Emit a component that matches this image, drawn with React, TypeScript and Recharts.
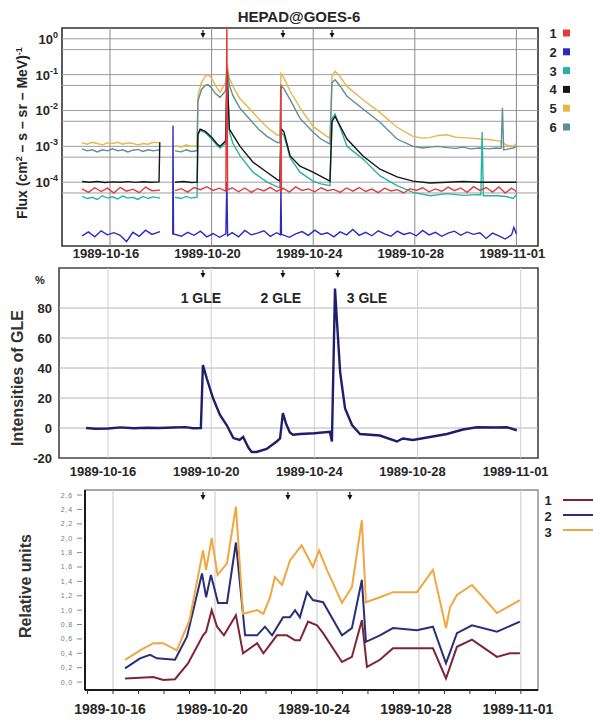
import React from "react";
import { LineChart, Line, XAxis, YAxis, ReferenceLine, ReferenceArea } from "recharts";

type Pt = [number, number | null];

// x values are days counted from 1989-10-16 00:00 UT
const DATE_TICKS = [0, 4, 8, 12, 16];
const DATE_LABELS = ["1989-10-16", "1989-10-20", "1989-10-24", "1989-10-28", "1989-11-01"];
const DAY_TICKS = [-1, 0, 1, 2, 3, 4, 5, 6, 7, 8, 9, 10, 11, 12, 13, 14, 15, 16];

const FLUX_TICKS = [1, 0.1, 0.01, 0.001, 0.0001];
const FLUX_GRID = [1, 0.5, 0.1, 0.05, 0.01, 0.005, 0.001, 0.0005, 0.0001, 0.00005];
const GLE_TICKS = [-20, 0, 20, 40, 60, 80];
const GLE_GRID = [0, 20, 40, 60, 80];
const REL_TICKS = [0, 0.2, 0.4, 0.6, 0.8, 1.0, 1.2, 1.4, 1.6, 1.8, 2.0, 2.2, 2.4, 2.6];

const HEPAD_NAMES = ["1", "2", "3", "4", "5", "6"];
const NM_NAMES = ["1", "2", "3"];
const GLE_NAMES = ["1 GLE", "2 GLE", "3 GLE"];
const GLE_NAME_DAYS = [3.6, 6.7, 10.04];
const FLUX_ARROW_DAYS = [3.66, 6.81, 8.74];
const GLE_ARROW_DAYS = [3.68, 6.78, 8.91];
const REL_ARROW_DAYS = [3.53, 6.86, 9.29];

// HEPAD channel 1 (red)
const hepad1: Pt[] = [
  [-1.1, 6.5e-5], [-0.85, 5.2e-5], [-0.6, 7.0e-5], [-0.35, 5.5e-5], [-0.1, 6.8e-5], [0.15, 5.0e-5],
  [0.4, 7.2e-5], [0.65, 5.6e-5], [0.9, 6.4e-5], [1.15, 5.1e-5], [1.4, 7.3e-5], [1.65, 5.8e-5], [1.97, 6.0e-5],
  [2.2, null],
  [2.56, 5.8e-5], [2.81, 6.6e-5], [3.06, 5.3e-5], [3.31, 7.1e-5], [3.56, 6.2e-5], [3.81, 7.5e-5],
  [4.06, 5.9e-5], [4.31, 6.8e-5], [4.56, 5.6e-5], [4.6, 3], [4.63, 6.0e-5], [4.81, 7.0e-5], [5.06, 5.4e-5],
  [5.31, 6.9e-5], [5.56, 5.2e-5], [5.81, 6.6e-5], [6.06, 5.7e-5], [6.31, 7.2e-5], [6.56, 5.5e-5],
  [6.71, 6.2e-5], [6.73, 5e-2], [6.75, 6.0e-5], [6.81, 6.8e-5], [7.06, 5.3e-5], [7.31, 7.4e-5],
  [7.56, 5.9e-5], [7.81, 6.5e-5], [8.06, 5.4e-5], [8.31, 7.0e-5], [8.56, 5.8e-5], [8.81, 6.3e-5],
  [9.06, 5.2e-5], [9.31, 6.9e-5], [9.56, 5.6e-5], [9.81, 7.1e-5], [10.06, 5.5e-5], [10.31, 6.4e-5],
  [10.56, 5.1e-5], [10.81, 6.8e-5], [11.06, 5.7e-5], [11.31, 6.2e-5], [11.56, 5.0e-5], [11.81, 6.6e-5],
  [12.06, 5.9e-5], [12.31, 7.0e-5], [12.56, 5.4e-5], [12.81, 6.5e-5], [13.06, 5.6e-5], [13.31, 7.3e-5],
  [13.56, 5.8e-5], [13.81, 6.9e-5], [14.06, 5.2e-5], [14.31, 7.5e-5], [14.56, 5.9e-5], [14.81, 7.1e-5],
  [15.06, 5.3e-5], [15.31, 7.4e-5], [15.56, 5.0e-5], [15.81, 6.8e-5], [16.0, 5.5e-5],
];

// HEPAD channel 2 (blue)
const hepad2: Pt[] = [
  [-1.1, 3.2e-6], [-0.85, 4.1e-6], [-0.6, 3.0e-6], [-0.35, 4.4e-6], [-0.1, 3.4e-6], [0.15, 3.9e-6],
  [0.4, 3.3e-6], [0.65, 2.2e-6], [0.9, 4.0e-6], [1.15, 3.1e-6], [1.4, 4.6e-6], [1.65, 3.5e-6], [1.97, 4.2e-6],
  [2.2, null],
  [2.47, 3.4e-6], [2.48, 3.8e-3], [2.5, 3.6e-6], [2.81, 3.1e-6], [3.06, 4.0e-6], [3.31, 3.3e-6],
  [3.56, 4.3e-6], [3.81, 3.0e-6], [4.06, 3.7e-6], [4.31, 2.9e-6], [4.56, 3.6e-6], [4.6, 1e-4], [4.63, 3.2e-6],
  [4.81, 3.9e-6], [5.06, 3.0e-6], [5.31, 4.5e-6], [5.56, 3.4e-6], [5.81, 3.8e-6], [6.06, 4.4e-6],
  [6.31, 3.1e-6], [6.56, 3.9e-6], [6.71, 3.4e-6], [6.73, 7e-5], [6.75, 3.5e-6], [7.06, 2.9e-6],
  [7.31, 3.6e-6], [7.56, 4.2e-6], [7.81, 3.3e-6], [8.06, 4.6e-6], [8.31, 3.5e-6], [8.56, 3.9e-6],
  [8.81, 3.0e-6], [9.06, 4.1e-6], [9.31, 3.4e-6], [9.56, 4.8e-6], [9.81, 3.3e-6], [10.06, 4.0e-6],
  [10.31, 3.2e-6], [10.56, 4.4e-6], [10.81, 3.6e-6], [11.06, 3.1e-6], [11.31, 4.3e-6], [11.56, 3.5e-6],
  [11.81, 3.9e-6], [12.06, 3.2e-6], [12.31, 4.5e-6], [12.56, 3.4e-6], [12.81, 4.0e-6], [13.06, 3.1e-6],
  [13.31, 3.8e-6], [13.56, 4.3e-6], [13.81, 3.3e-6], [14.06, 4.1e-6], [14.31, 3.5e-6], [14.56, 3.9e-6],
  [14.81, 2.7e-6], [15.06, 3.8e-6], [15.31, 3.2e-6], [15.56, 2.6e-6], [15.81, 3.4e-6], [15.9, 5.5e-6],
  [16.0, 3.6e-6],
];

// HEPAD channel 3 (teal)
const hepad3: Pt[] = [
  [-1.1, 4.0e-5], [-0.9, 3.5e-5], [-0.7, 3.8e-5], [-0.5, 3.3e-5], [-0.3, 4.2e-5], [-0.1, 3.6e-5],
  [0.1, 3.9e-5], [0.3, 3.4e-5], [0.5, 4.1e-5], [0.7, 3.6e-5], [0.9, 3.8e-5], [1.1, 3.3e-5], [1.3, 4.0e-5],
  [1.5, 3.5e-5], [1.7, 3.9e-5], [1.97, 3.6e-5],
  [2.2, null],
  [2.56, 3.8e-5], [2.8, 3.5e-5], [3.0, 4.0e-5], [3.2, 3.6e-5], [3.43, 3.8e-5], [3.46, 2.0e-3],
  [3.55, 2.8e-3], [3.75, 2.4e-3], [4.0, 1.6e-3], [4.2, 1.1e-3], [4.33, 9e-4], [4.55, 1.2e-3], [4.61, 1.0e-1],
  [4.7, 2.5e-3], [4.84, 1.2e-3], [5.12, 5.4e-4], [5.63, 1.9e-4], [6.18, 1.0e-4], [6.57, 7.5e-5],
  [6.69, 7.0e-5], [6.73, 2.5e-3], [6.85, 2.0e-3], [7.09, 4.8e-4], [7.48, 1.9e-4], [7.99, 1.07e-4],
  [8.3, 9e-5], [8.66, 8e-5], [8.74, 6e-3], [8.86, 8e-3], [9.33, 1.0e-3], [9.96, 4.4e-4], [10.63, 1.5e-4],
  [11.3, 8e-5], [11.93, 5.2e-5], [12.6, 4.2e-5], [13.27, 4.8e-5], [13.9, 4.3e-5], [14.5, 4.5e-5],
  [14.6, 4.4e-5], [14.65, 2.5e-3], [14.7, 4.2e-5], [15.24, 4.2e-5], [15.6, 4.0e-5], [15.87, 3.5e-5],
  [16.0, 4.5e-5],
];

// HEPAD channel 4 (black)
const hepad4: Pt[] = [
  [-1.1, 1.05e-4], [-0.8, 1.0e-4], [-0.5, 1.05e-4], [-0.2, 9.8e-5], [0.1, 1.02e-4], [0.4, 1.0e-4],
  [0.7, 1.04e-4], [1.0, 9.9e-5], [1.3, 1.03e-4], [1.6, 1.0e-4], [1.93, 1.02e-4], [1.96, 1.3e-3],
  [2.2, null],
  [2.56, 1.0e-4], [2.9, 1.05e-4], [3.2, 9.8e-5], [3.43, 1.0e-4], [3.46, 2.2e-3], [3.55, 3.0e-3],
  [3.75, 2.6e-3], [4.0, 1.8e-3], [4.2, 1.2e-3], [4.33, 1.0e-3], [4.55, 1.4e-3], [4.61, 1.2e-1],
  [4.7, 3.0e-3], [5.12, 1.0e-3], [5.63, 3.6e-4], [6.18, 1.9e-4], [6.57, 1.2e-4], [6.69, 1.07e-4],
  [6.73, 3.2e-3], [6.85, 2.5e-3], [7.09, 5.4e-4], [7.48, 2.8e-4], [7.99, 1.9e-4], [8.66, 1.07e-4],
  [8.74, 5e-3], [8.86, 6.8e-3], [9.33, 1.6e-3], [9.96, 5.4e-4], [10.63, 2.3e-4], [11.3, 1.4e-4],
  [11.93, 1.07e-4], [12.6, 9.5e-5], [13.27, 1.0e-4], [13.9, 1.05e-4], [14.57, 1.0e-4], [15.24, 1.0e-4],
  [15.87, 1.0e-4], [16.0, 1.0e-4],
];

// HEPAD channel 5 (gold)
const hepad5: Pt[] = [
  [-1.1, 1.25e-3], [-0.9, 1.15e-3], [-0.7, 1.3e-3], [-0.5, 1.2e-3], [-0.3, 1.1e-3], [-0.1, 1.25e-3],
  [0.1, 1.2e-3], [0.3, 1.3e-3], [0.5, 1.15e-3], [0.7, 1.25e-3], [0.9, 1.2e-3], [1.1, 1.1e-3], [1.3, 1.2e-3],
  [1.5, 1.15e-3], [1.7, 1.3e-3], [1.97, 1.25e-3],
  [2.2, null],
  [2.56, 1.05e-3], [2.8, 9.5e-4], [3.0, 1.1e-3], [3.2, 1.0e-3], [3.43, 1.05e-3], [3.46, 2.5e-2],
  [3.6, 6e-2], [3.75, 9e-2], [3.86, 1.0e-1], [4.0, 8e-2], [4.15, 5e-2], [4.33, 3.2e-2], [4.55, 6e-2],
  [4.61, 1.9e-1], [4.7, 8e-2], [4.84, 4.7e-2], [5.1, 2.2e-2], [5.51, 1.1e-2], [5.85, 6e-3], [6.18, 3.4e-3],
  [6.57, 2.1e-3], [6.69, 2.0e-3], [6.73, 1.07e-1], [6.85, 8e-2], [7.09, 3.5e-2], [7.48, 1.2e-2],
  [7.99, 3.6e-3], [8.54, 1.9e-3], [8.66, 1.7e-3], [8.74, 9e-2], [8.86, 1.25e-1], [9.0, 1.0e-1],
  [9.33, 4.7e-2], [9.96, 2.0e-2], [10.63, 8.7e-3], [11.3, 3.4e-3], [11.93, 1.9e-3], [12.3, 1.7e-3],
  [12.6, 1.75e-3], [12.9, 2.0e-3], [13.27, 2.1e-3], [13.6, 1.8e-3], [13.9, 1.75e-3], [14.2, 1.7e-3],
  [14.57, 1.6e-3], [14.9, 1.55e-3], [15.35, 1.4e-3], [15.6, 1.1e-3], [15.87, 1.0e-3], [16.0, 1.2e-3],
];

// HEPAD channel 6 (grey-teal)
const hepad6: Pt[] = [
  [-1.1, 8.5e-4], [-0.9, 7.5e-4], [-0.7, 8.0e-4], [-0.5, 7.0e-4], [-0.3, 8.0e-4], [-0.1, 7.5e-4],
  [0.1, 8.5e-4], [0.3, 7.5e-4], [0.5, 8.0e-4], [0.7, 7.0e-4], [0.9, 7.8e-4], [1.1, 8.2e-4], [1.3, 7.2e-4],
  [1.5, 8.0e-4], [1.7, 7.5e-4], [1.97, 8.0e-4],
  [2.2, null],
  [2.56, 7.5e-4], [2.8, 7.0e-4], [3.0, 8.0e-4], [3.2, 7.2e-4], [3.43, 7.5e-4], [3.46, 1.8e-2],
  [3.6, 3.8e-2], [3.75, 5.0e-2], [3.86, 5.3e-2], [4.0, 4.2e-2], [4.15, 3.0e-2], [4.33, 2.3e-2],
  [4.55, 3.5e-2], [4.61, 1.6e-1], [4.7, 5.0e-2], [4.84, 2.6e-2], [5.1, 1.2e-2], [5.51, 5.6e-3],
  [5.85, 3.0e-3], [6.18, 1.9e-3], [6.57, 1.3e-3], [6.69, 1.25e-3], [6.73, 5.0e-2], [6.85, 4.0e-2],
  [7.09, 2.0e-2], [7.48, 6.0e-3], [7.99, 2.5e-3], [8.3, 1.6e-3], [8.66, 1.15e-3], [8.74, 6.0e-2],
  [8.86, 7.2e-2], [9.0, 5.5e-2], [9.33, 2.5e-2], [9.96, 1.1e-2], [10.63, 4.7e-3], [11.3, 1.6e-3],
  [11.93, 1.0e-3], [12.3, 9.0e-4], [12.6, 9.5e-4], [12.9, 1.0e-3], [13.27, 9.2e-4], [13.6, 8.8e-4],
  [13.9, 9.5e-4], [14.2, 8.5e-4], [14.57, 9.0e-4], [14.9, 8.5e-4], [15.2, 9.0e-4], [15.4, 8.8e-4],
  [15.45, 1.2e-2], [15.5, 8.0e-4], [15.87, 9.0e-4], [16.0, 1.0e-3],
];

// GLE intensity, %
const gleIntensity: Pt[] = [
  [-0.85, 0], [-0.5, -0.5], [0, -0.3], [0.5, 0.4], [1, -0.2], [1.5, 0.2], [2, 0], [2.5, 0.3], [3, 0.6],
  [3.3, -0.2], [3.6, 0], [3.68, 42], [3.83, 33], [4.07, 20], [4.34, 8.7], [4.6, 2], [4.86, -6.7], [5.1, -8],
  [5.24, -6], [5.44, -13], [5.57, -16], [5.76, -16], [6.15, -14], [6.54, -9], [6.67, -7], [6.78, 10],
  [6.9, 3], [7.05, -3], [7.17, -4.5], [7.44, -4], [8.0, -3.5], [8.6, -2.5], [8.68, -9], [8.8, 93],
  [8.88, 70], [9.0, 37], [9.19, 13], [9.46, 2], [9.77, -4], [10.54, -5], [11.2, -9], [11.43, -7],
  [11.82, -8], [12.48, -6], [13.14, -4], [13.76, -1], [14.3, 0.5], [15.0, 0.3], [15.47, 0.5], [15.85, -1.5],
];

// relative units, curves 1-3
const rel1: Pt[] = [
  [0.47, 0.05], [1.06, 0.06], [1.58, 0.07], [1.97, 0.03], [2.43, 0.04], [2.94, 0.26], [3.53, 0.65],
  [3.65, 0.7], [3.87, 1.0], [4.08, 0.77], [4.35, 0.65], [4.82, 0.93], [5.1, 0.4], [5.65, 0.54], [5.9, 0.4],
  [6.43, 0.65], [6.82, 0.65], [7.14, 0.58], [7.33, 0.58], [7.65, 0.84], [8.0, 0.79], [8.24, 0.68],
  [8.98, 0.28], [9.37, 0.35], [9.76, 0.86], [9.96, 0.21], [10.47, 0.31], [10.98, 0.47], [11.92, 0.47],
  [12.55, 0.47], [13.06, 0.05], [13.49, 0.49], [14.08, 0.59], [15.06, 0.35], [15.57, 0.4], [15.96, 0.4],
];
const rel2: Pt[] = [
  [0.47, 0.19], [1.06, 0.33], [1.45, 0.38], [1.72, 0.33], [2.43, 0.31], [2.9, 0.63], [3.49, 1.51],
  [3.65, 1.18], [3.84, 1.49], [4.12, 1.1], [4.47, 1.1], [4.82, 1.94], [5.18, 0.65], [5.65, 0.65],
  [5.96, 0.77], [6.24, 0.65], [6.67, 0.9], [6.94, 0.9], [7.14, 1.0], [7.33, 0.9], [7.61, 1.25],
  [7.84, 1.14], [8.24, 1.11], [8.98, 0.65], [9.37, 0.75], [9.76, 1.42], [9.92, 0.56], [10.47, 0.65],
  [10.98, 0.75], [11.92, 0.72], [12.55, 0.77], [13.06, 0.26], [13.49, 0.68], [14.08, 0.79], [15.06, 0.7],
  [15.96, 0.84],
];
const rel3: Pt[] = [
  [0.47, 0.31], [1.06, 0.44], [1.58, 0.54], [1.97, 0.54], [2.5, 0.44], [3.0, 0.86], [3.53, 1.83],
  [3.65, 1.56], [3.87, 2.0], [4.1, 1.49], [4.47, 1.65], [4.82, 2.44], [5.1, 0.95], [5.65, 1.0],
  [5.9, 0.95], [6.16, 1.18], [6.35, 1.46], [6.63, 1.35], [6.94, 1.69], [7.4, 1.9], [7.84, 1.6],
  [8.08, 1.83], [8.39, 1.56], [8.98, 1.1], [9.37, 1.32], [9.76, 2.25], [9.92, 1.11], [10.47, 1.18],
  [10.98, 1.25], [11.92, 1.25], [12.55, 1.56], [13.06, 0.75], [13.22, 1.04], [13.49, 1.21], [14.08, 1.35],
  [14.51, 1.18], [15.06, 0.96], [15.96, 1.14],
];

const HEPAD_SERIES = [hepad1, hepad2, hepad3, hepad4, hepad5, hepad6];
const REL_SERIES = [rel1, rel2, rel3];

const HEPAD_COLORS = ["#e43a3c", "#2b2bbd", "#27b3a4", "#161616", "#e9b64a", "#5f8e96"];
const HEPAD_DRAW_ORDER = [4, 5, 2, 3, 1, 0];
const REL_COLORS = ["#7e2439", "#2a2d78", "#f2a640"];
const INK = "#262626";
const FONT = "'Liberation Sans', Arial, sans-serif";

const rows = (pts: Pt[]) => pts.map(([d, v]) => ({ d, v }));

const DateTick = ({ x, y, payload, dy, size, dx = 0, minor }: any) => {
  const i = DATE_TICKS.indexOf(payload.value);
  return (
    <g>
      {minor && <line x1={x} x2={x} y1={y} y2={y + 4} stroke="#333" strokeWidth={1} />}
      {i >= 0 && (
        <text x={x + dx} y={y + dy} textAnchor="middle" fontSize={size} fontWeight="bold" fill={INK} fontFamily={FONT}>
          {DATE_LABELS[i]}
        </text>
      )}
    </g>
  );
};

const PowTick = ({ x, y, payload }: any) => {
  const e = Math.round(Math.log10(payload.value));
  return (
    <text x={x - 4} y={y + 5} textAnchor="end" fontSize={13} fontWeight="bold" fill={INK} fontFamily={FONT}>
      10<tspan dy={-6} fontSize={9}>{String(e)}</tspan>
    </text>
  );
};

const NumTick = ({ x, y, payload }: any) => (
  <text x={x - 7} y={y + 5} textAnchor="end" fontSize={13} fontWeight="bold" fill={INK} fontFamily={FONT}>
    {payload.value}
  </text>
);

const RelTick = ({ x, y, payload }: any) => (
  <g>
    <line x1={x - 8} x2={x - 3} y1={y} y2={y} stroke="#888" strokeWidth={1} />
    <text x={x - 12} y={y + 2.5} textAnchor="end" fontSize={7} fill="#7a7a7a" letterSpacing={0.8} fontFamily={FONT}>
      {payload.value.toFixed(1).replace(".", ",")}
    </text>
  </g>
);

// small down arrow hung under the top frame
const ArrowMark = ({ viewBox }: any) => {
  const { x, y } = viewBox;
  return (
    <g>
      <line x1={x} y1={y + 2} x2={x} y2={y + 7} stroke="#111" strokeWidth={1.2} />
      <path d={`M${x - 2.5},${y + 5} L${x + 2.5},${y + 5} L${x},${y + 10} Z`} fill="#111" />
    </g>
  );
};

const GleName = ({ viewBox, text }: any) => (
  <text x={viewBox.x} y={viewBox.y + 35} textAnchor="middle" fontSize={14} fontWeight="bold" fill={INK} fontFamily={FONT}>
    {text}
  </text>
);

function FluxPanel() {
  const xDom: [number, number] = [-1.89, 16.85];
  const yDom: [number, number] = [1.66e-6, 2];
  return (
    <LineChart width={593} height={265} margin={{ top: 28, right: 55, bottom: 0, left: 12 }}>
      <XAxis
        dataKey="d" type="number" domain={xDom} allowDataOverflow ticks={DATE_TICKS} interval={0} height={19}
        axisLine={false} tickLine={false} tickSize={0} tickMargin={0}
        tick={(p: any) => <DateTick {...p} dy={12} dx={-4} size={13} />}
      />
      <YAxis
        type="number" scale="log" domain={yDom} allowDataOverflow ticks={FLUX_TICKS} interval={0} width={50}
        axisLine={false} tickLine={false} tickSize={0} tickMargin={0} tick={(p: any) => <PowTick {...p} />}
      />
      {FLUX_GRID.map((g) => (
        <ReferenceLine key={`h${g}`} y={g} stroke="#9d9d9d" strokeWidth={1} />
      ))}
      {DATE_TICKS.map((d) => (
        <ReferenceLine key={`v${d}`} x={d} stroke="#8a8a8a" strokeWidth={1} />
      ))}
      {HEPAD_DRAW_ORDER.map((i) => (
        <Line
          key={HEPAD_NAMES[i]} data={rows(HEPAD_SERIES[i])} dataKey="v" name={HEPAD_NAMES[i]}
          stroke={HEPAD_COLORS[i]} strokeWidth={1.4} dot={false} isAnimationActive={false}
        />
      ))}
      <ReferenceArea x1={xDom[0]} x2={xDom[1]} y1={yDom[0]} y2={yDom[1]} fill="none" stroke="#333" strokeWidth={1.6} />
      {FLUX_ARROW_DAYS.map((d) => (
        <ReferenceLine key={`a${d}`} x={d} stroke="none" label={<ArrowMark />} />
      ))}
    </LineChart>
  );
}

function GlePanel() {
  const xDom: [number, number] = [-1.9, 16.67];
  const yDom: [number, number] = [-20, 106.7];
  return (
    <LineChart width={593} height={230} margin={{ top: 13, right: 55, bottom: 0, left: 9 }}>
      <XAxis
        dataKey="d" type="number" domain={xDom} allowDataOverflow ticks={DATE_TICKS} interval={0} height={27}
        axisLine={false} tickLine={false} tickSize={0} tickMargin={0}
        tick={(p: any) => <DateTick {...p} dy={18} dx={-5} size={13} />}
      />
      <YAxis
        type="number" domain={yDom} allowDataOverflow ticks={GLE_TICKS} interval={0} width={50}
        axisLine={false} tickLine={false} tickSize={0} tickMargin={0} tick={(p: any) => <NumTick {...p} />}
      />
      {GLE_GRID.map((g) => (
        <ReferenceLine key={`h${g}`} y={g} stroke="#b4b4b4" strokeWidth={1} />
      ))}
      {DATE_TICKS.map((d) => (
        <ReferenceLine key={`v${d}`} x={d} stroke="#cfcfcf" strokeWidth={1} />
      ))}
      <Line
        data={rows(gleIntensity)} dataKey="v" name="GLE" stroke="#1e1f6c" strokeWidth={2.4}
        dot={false} isAnimationActive={false}
      />
      <ReferenceArea x1={xDom[0]} x2={xDom[1]} y1={yDom[0]} y2={yDom[1]} fill="none" stroke="#444" strokeWidth={1.6} />
      {GLE_ARROW_DAYS.map((d) => (
        <ReferenceLine key={`a${d}`} x={d} stroke="none" label={<ArrowMark />} />
      ))}
      {GLE_NAMES.map((n, i) => (
        <ReferenceLine key={n} x={GLE_NAME_DAYS[i]} stroke="none" label={<GleName text={n} />} />
      ))}
    </LineChart>
  );
}

function RelPanel() {
  const xDom: [number, number] = [-1.1, 16.67];
  const yDom: [number, number] = [-0.11, 2.67];
  return (
    <LineChart width={593} height={240} margin={{ top: 10, right: 55, bottom: 0, left: 25 }}>
      <XAxis
        dataKey="d" type="number" domain={xDom} allowDataOverflow ticks={DAY_TICKS} interval={0} height={30}
        axisLine={{ stroke: "#1a1a1a", strokeWidth: 2 }} tickLine={false} tickSize={0} tickMargin={0}
        tick={(p: any) => <DateTick {...p} dy={24} dx={-3} size={14} minor />}
      />
      <YAxis
        type="number" domain={yDom} allowDataOverflow ticks={REL_TICKS} interval={0} width={60}
        axisLine={{ stroke: "#1a1a1a", strokeWidth: 2 }} tickLine={false} tickSize={0} tickMargin={0}
        tick={(p: any) => <RelTick {...p} />}
      />
      {DATE_TICKS.map((d) => (
        <ReferenceLine key={`v${d}`} x={d} stroke="#c6c6c6" strokeWidth={1} />
      ))}
      <ReferenceArea x1={xDom[0]} x2={xDom[1]} y1={yDom[0]} y2={yDom[1]} fill="none" stroke="#8a8a8a" strokeWidth={1.4} />
      {REL_SERIES.map((s, i) => (
        <Line
          key={NM_NAMES[i]} data={rows(s)} dataKey="v" name={NM_NAMES[i]} stroke={REL_COLORS[i]}
          strokeWidth={2} dot={false} isAnimationActive={false}
        />
      ))}
      {REL_ARROW_DAYS.map((d) => (
        <ReferenceLine key={`a${d}`} x={d} stroke="none" label={<ArrowMark />} />
      ))}
    </LineChart>
  );
}

export default function App() {
  return (
    <div style={{ position: "absolute", left: 0, top: 0, width: 593, height: 720, background: "#fff", fontFamily: FONT }}>
      <div style={{ position: "absolute", left: 0, top: 0 }}>
        <FluxPanel />
      </div>
      <div style={{ position: "absolute", left: 0, top: 255 }}>
        <GlePanel />
      </div>
      <div style={{ position: "absolute", left: 0, top: 480 }}>
        <RelPanel />
      </div>
      <svg width={593} height={720} style={{ position: "absolute", left: 0, top: 0, pointerEvents: "none" }}>
        <text x={299} y={22} textAnchor="middle" fontSize={15} fontWeight="bold" fill={INK} fontFamily={FONT}>
          HEPAD@GOES-6
        </text>
        <g transform="translate(27,133) rotate(-90)">
          <text textAnchor="middle" fontSize={14} fontWeight="bold" fill={INK} fontFamily={FONT}>
            Flux (cm<tspan dy={-5} fontSize={9}>2</tspan>
            <tspan dy={5}> – s – sr – MeV)</tspan>
            <tspan dy={-5} fontSize={9}>-1</tspan>
          </text>
        </g>
        {HEPAD_NAMES.map((n, i) => (
          <g key={n}>
            <text x={553} y={38 + i * 18.8} textAnchor="middle" fontSize={13} fontWeight="bold" fill={INK} fontFamily={FONT}>
              {n}
            </text>
            <rect x={563} y={29.5 + i * 18.8} width={7} height={7} fill={HEPAD_COLORS[i]} />
          </g>
        ))}
        <text x={40} y={284} textAnchor="middle" fontSize={11} fontWeight="bold" fill={INK} fontFamily={FONT}>
          %
        </text>
        <g transform="translate(23,378) rotate(-90)">
          <text textAnchor="middle" fontSize={16} fontWeight="bold" fill="#333" fontFamily={FONT}>
            Intensities of GLE
          </text>
        </g>
        <g transform="translate(31,586) rotate(-90)">
          <text textAnchor="middle" fontSize={16} fontWeight="bold" fill="#333" fontFamily={FONT}>
            Relative units
          </text>
        </g>
        {NM_NAMES.map((n, i) => (
          <g key={n}>
            <text x={548} y={505 + i * 16} textAnchor="middle" fontSize={13} fontWeight="bold" fill={INK} fontFamily={FONT}>
              {n}
            </text>
            <line x1={563} x2={593} y1={500 + i * 15} y2={500 + i * 15} stroke={REL_COLORS[i]} strokeWidth={2} />
          </g>
        ))}
      </svg>
    </div>
  );
}
